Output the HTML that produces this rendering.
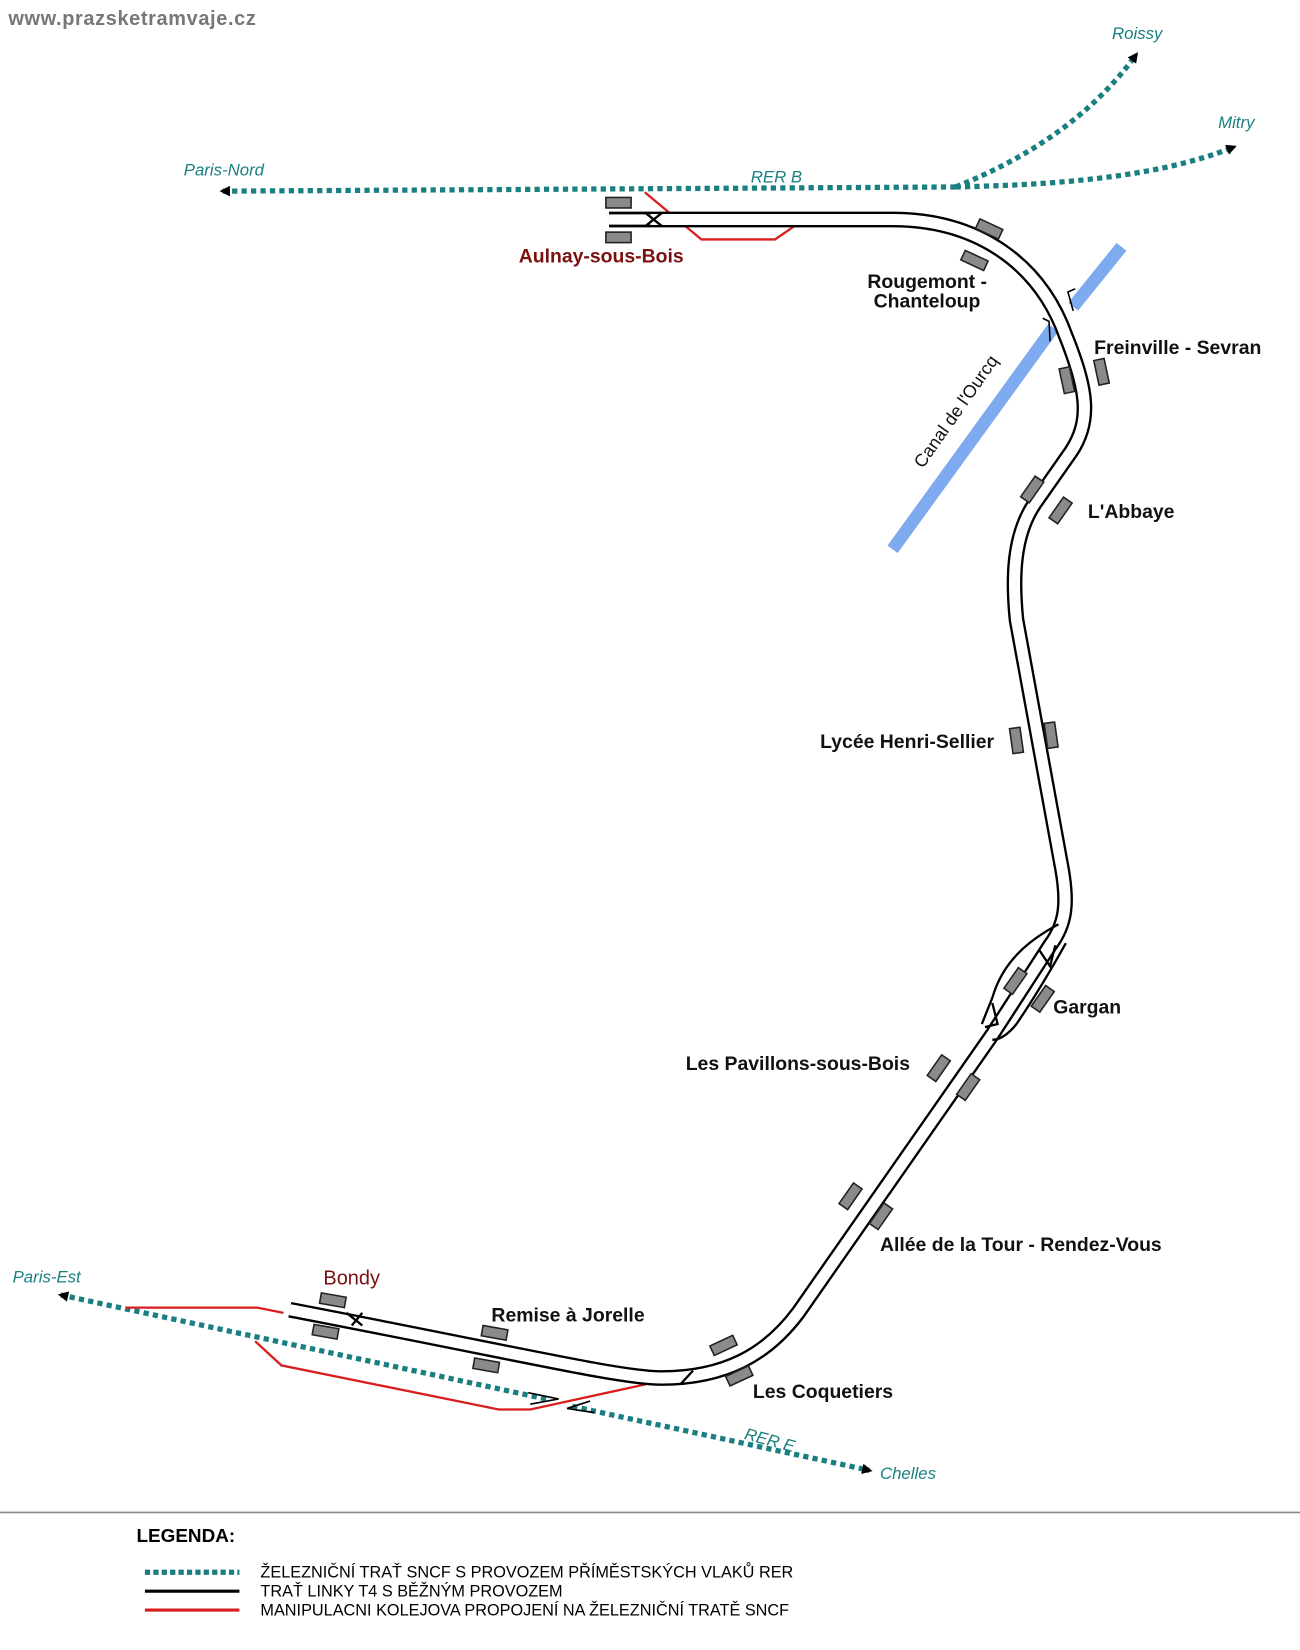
<!DOCTYPE html>
<html><head><meta charset="utf-8"><style>
html,body{margin:0;padding:0;background:#fff;}
svg{display:block;}
text{font-family:"Liberation Sans",sans-serif;}
.st{font-weight:bold;font-size:18.5px;fill:#111;}
.tl{font-style:italic;font-size:16px;fill:#1a7f80;}
.pl{fill:#8a8a8a;stroke:#222;stroke-width:1.5;}
.lg{font-size:15.5px;fill:#000;}
</style></head><body>
<svg width="1300" height="1650" viewBox="0 0 1238 1571" preserveAspectRatio="none" xmlns="http://www.w3.org/2000/svg">
<defs>
<marker id="ar" markerWidth="10" markerHeight="10" refX="7" refY="5" orient="auto" markerUnits="userSpaceOnUse"><path d="M0,0 L10,5 L0,10 Z" fill="#000"/></marker>
</defs>
<text x="8" y="24" font-size="19" font-weight="bold" fill="#777" letter-spacing="0.6">www.prazsketramvaje.cz</text>

<g fill="none" stroke="#1a7f80" stroke-width="5" stroke-dasharray="5 4">
<path d="M910,178 L212,182" marker-end="url(#ar)"/>
<path d="M910,178 C1000,176 1100,170 1175,140" marker-end="url(#ar)"/>
<path d="M910,178 C980,150 1040,110 1082,52" marker-end="url(#ar)"/>
<path d="M520,1332 L58,1233" marker-end="url(#ar)"/>
<path d="M545,1339 L828,1400" marker-end="url(#ar)"/>
</g>
<path d="M503,1326 L532,1332 L505,1337 M562,1334 L540,1341 L566,1345" fill="none" stroke="#000" stroke-width="1.6"/>
<text class="tl" x="175" y="167">Paris-Nord</text>
<text class="tl" x="715" y="174">RER B</text>
<text class="tl" x="1059" y="37">Roissy</text>
<text class="tl" x="1160" y="122">Mitry</text>
<text class="tl" x="12" y="1221">Paris-Est</text>
<text class="tl" x="838" y="1408">Chelles</text>
<text class="tl" x="708" y="1370" transform="rotate(15 708 1370)">RER E</text>

<g stroke="#7eaaf0" stroke-width="12" fill="none">
<path d="M850,523 L1003,312"/>
<path d="M1022,292 L1068,235"/>
</g>
<path d="M993,303 L999,306 L1000,325 M1024,275 L1017,278 L1022,296" fill="none" stroke="#000" stroke-width="1.5"/>
<text x="915" y="395" font-size="17" fill="#111" transform="rotate(-55 915 395)" text-anchor="middle">Canal de l'Ourcq</text>

<g fill="none" stroke="#d81e1e" stroke-width="2.2">
<path d="M614,183 L668,228 L738,228 L757,215"/>
<path d="M120,1245 L245,1245 L270,1250"/>
<path d="M243,1277 L268,1300 L475,1342 L505,1342 L615,1318"/>
</g>

<path d="M580,209 L850,209 C930,209 990,250 1015,320 C1035,370 1040,400 1020,430 L985,480 C965,510 964,550 968,590 L1010,820 C1018,860 1015,880 1000,900 L945,985 L760,1250 C730,1290 690,1312 630,1312 C590,1312 500,1290 276,1247" fill="none" stroke="#000" stroke-width="15"/>
<path d="M580,209 L850,209 C930,209 990,250 1015,320 C1035,370 1040,400 1020,430 L985,480 C965,510 964,550 968,590 L1010,820 C1018,860 1015,880 1000,900 L945,985 L760,1250 C730,1290 690,1312 630,1312 C590,1312 500,1290 276,1247" fill="none" stroke="#fff" stroke-width="10.5"/>
<g fill="none" stroke="#000" stroke-width="2.2">
<path d="M1008,880 C980,895 955,915 945,950 L935,975"/>
<path d="M1015,898 C1000,925 985,950 968,975 C960,985 952,990 945,990"/>
<path d="M990,905 L1000,920 L1005,900 M945,955 L950,975 L938,978"/>
<path d="M615,203 L630,215 M615,215 L630,203 M330,1250 L345,1262 M345,1250 L335,1262"/>
<path d="M660,1305 L648,1318"/>
</g>
<path d="M580,203 L620,203 M580,215 L620,215" stroke="#000" stroke-width="2.2"/>

<g>
<rect class="pl" x="577" y="188" width="24" height="10"/>
<rect class="pl" x="577" y="221" width="24" height="10"/>
<rect class="pl" x="-12" y="-5" width="24" height="10" transform="translate(942,218) rotate(25)"/>
<rect class="pl" x="-12" y="-5" width="24" height="10" transform="translate(928,248) rotate(25)"/>
<rect class="pl" x="-12" y="-5" width="24" height="10" transform="translate(1016,362) rotate(78)"/>
<rect class="pl" x="-12" y="-5" width="24" height="10" transform="translate(1049,354) rotate(78)"/>
<rect class="pl" x="-12" y="-5" width="24" height="10" transform="translate(983,466) rotate(-55)"/>
<rect class="pl" x="-12" y="-5" width="24" height="10" transform="translate(1010,486) rotate(-55)"/>
<rect class="pl" x="-12" y="-5" width="24" height="10" transform="translate(968,705) rotate(82)"/>
<rect class="pl" x="-12" y="-5" width="24" height="10" transform="translate(1001,700) rotate(82)"/>
<rect class="pl" x="-12" y="-5" width="24" height="10" transform="translate(967,934) rotate(-55)"/>
<rect class="pl" x="-12" y="-5" width="24" height="10" transform="translate(993,951) rotate(-55)"/>
<rect class="pl" x="-12" y="-5" width="24" height="10" transform="translate(894,1017) rotate(-55)"/>
<rect class="pl" x="-12" y="-5" width="24" height="10" transform="translate(922,1035) rotate(-55)"/>
<rect class="pl" x="-12" y="-5" width="24" height="10" transform="translate(810,1139) rotate(-55)"/>
<rect class="pl" x="-12" y="-5" width="24" height="10" transform="translate(839,1158) rotate(-55)"/>
<rect class="pl" x="-12" y="-5" width="24" height="10" transform="translate(689,1281) rotate(-25)"/>
<rect class="pl" x="-12" y="-5" width="24" height="10" transform="translate(704,1310) rotate(-25)"/>
<rect class="pl" x="-12" y="-5" width="24" height="10" transform="translate(471,1269) rotate(10)"/>
<rect class="pl" x="-12" y="-5" width="24" height="10" transform="translate(463,1300) rotate(10)"/>
<rect class="pl" x="-12" y="-5" width="24" height="10" transform="translate(317,1238) rotate(10)"/>
<rect class="pl" x="-12" y="-5" width="24" height="10" transform="translate(310,1268) rotate(10)"/>
</g>

<text class="st" x="494" y="250" style="fill:#7a1010">Aulnay-sous-Bois</text>
<text class="st" x="826" y="274">Rougemont -</text>
<text class="st" x="832" y="293">Chanteloup</text>
<text class="st" x="1042" y="337">Freinville - Sevran</text>
<text class="st" x="1036" y="493">L'Abbaye</text>
<text class="st" x="781" y="712">Lycée Henri-Sellier</text>
<text class="st" x="1003" y="965">Gargan</text>
<text class="st" x="653" y="1019">Les Pavillons-sous-Bois</text>
<text class="st" x="838" y="1191">Allée de la Tour - Rendez-Vous</text>
<text class="st" x="717" y="1331">Les Coquetiers</text>
<text class="st" x="468" y="1258">Remise à Jorelle</text>
<text x="308" y="1223" font-size="19" fill="#7a1010">Bondy</text>

<line x1="0" y1="1440" x2="1238" y2="1440" stroke="#888" stroke-width="1.5"/>
<text x="130" y="1468" font-size="18" font-weight="bold" fill="#000">LEGENDA:</text>
<line x1="138" y1="1497" x2="228" y2="1497" stroke="#1a7f80" stroke-width="5" stroke-dasharray="5 3"/>
<line x1="138" y1="1515" x2="228" y2="1515" stroke="#000" stroke-width="3"/>
<line x1="138" y1="1533" x2="228" y2="1533" stroke="#d81e1e" stroke-width="3"/>
<text class="lg" x="248" y="1502">ŽELEZNIČNÍ TRAŤ SNCF S PROVOZEM PŘÍMĚSTSKÝCH VLAKŮ RER</text>
<text class="lg" x="248" y="1520">TRAŤ LINKY T4 S BĚŽNÝM PROVOZEM</text>
<text class="lg" x="248" y="1538">MANIPULACNI KOLEJOVA PROPOJENÍ NA ŽELEZNIČNÍ TRATĚ SNCF</text>
</svg>
</body></html>
